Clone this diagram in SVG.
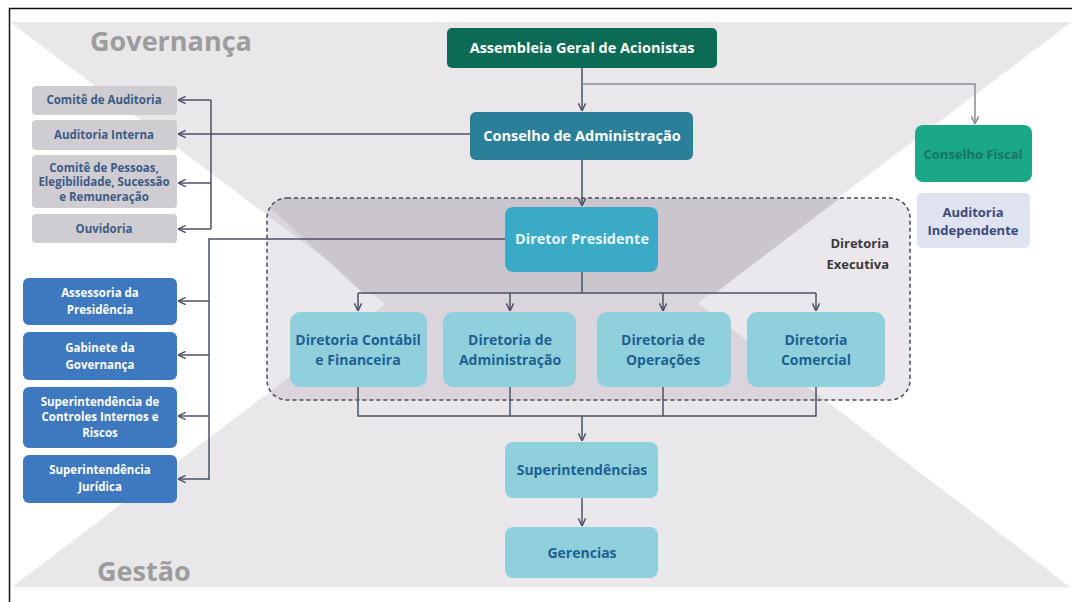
<svg xmlns="http://www.w3.org/2000/svg" width="1072" height="602" viewBox="0 0 1072 602">
<style>
text{font-family:"Open Sans","Noto Sans","DejaVu Sans",sans-serif;font-weight:700;text-anchor:middle}
.bg{fill:#e9e7e9}
.conn{fill:none;stroke:#4d5068;stroke-width:1.5}
.connl{fill:none;stroke:#8a8a98;stroke-width:1.5}
.grey rect{fill:#cfcdd1}
.grey text{fill:#3d5a86;font-size:11.5px}
.blue rect{fill:#3e78be}
.blue text{fill:#ffffff;font-size:11.5px}
.dir rect{fill:#90d0dd}
.dir text{fill:#1e5f92;font-size:14px}
.main{font-size:14.5px}
.hdr{fill:#9c9c9e;font-size:27px;font-weight:700;text-anchor:start}
</style>
<defs>
<marker id="ar" viewBox="0 0 10 10" refX="9.5" refY="5" markerWidth="9" markerHeight="9" markerUnits="userSpaceOnUse" orient="auto">
<path d="M1,1 L9.5,5 L1,9" fill="none" stroke="#4d5068" stroke-width="1.6"/>
</marker>
<marker id="arl" viewBox="0 0 10 10" refX="9.5" refY="5" markerWidth="9" markerHeight="9" markerUnits="userSpaceOnUse" orient="auto">
<path d="M1,1 L9.5,5 L1,9" fill="none" stroke="#8a8a98" stroke-width="1.6"/>
</marker>
<clipPath id="boxclip"><rect x="267" y="198" width="643" height="202" rx="20"/></clipPath>
</defs>
<rect x="0" y="0" width="1072" height="602" fill="#ffffff"/>
<g id="background">
<polygon class="bg" points="10,22 1072,22 541,421"/>
<polygon class="bg" points="12,587 1070,587 543,185"/>
<path d="M9.5,602 V8.5 H1072" fill="none" stroke="#111" stroke-width="1.5"/>
<text class="hdr" x="90" y="51">Governança</text>
<text class="hdr" x="97" y="581">Gestão</text>
</g>
<g id="diretoria-executiva">
<rect x="267" y="198" width="643" height="202" rx="20" fill="#b4a8bd" fill-opacity="0.28"/>
<g clip-path="url(#boxclip)">
<polygon points="260,198 840,198 714,294 364,294" fill="#cbc5ce"/>
</g>
<rect x="267" y="198" width="643" height="202" rx="20" fill="none" stroke="#4a4a58" stroke-width="1.5" stroke-dasharray="4,3"/>
<text x="889" y="248" style="text-anchor:end;fill:#3a3a3e;font-size:13px">Diretoria</text>
<text x="889" y="269" style="text-anchor:end;fill:#3a3a3e;font-size:13px">Executiva</text>
</g>
<g id="connectors">
<path class="conn" d="M582,68 V111" marker-end="url(#ar)"/>
<path class="connl" d="M582,84 H975 V124" marker-end="url(#arl)"/>
<path class="conn" d="M582,160 V206" marker-end="url(#ar)"/>
<path class="conn" d="M470,134 H178" marker-end="url(#ar)"/>
<path class="conn" d="M211,100 V229"/>
<path class="conn" d="M211,100 H178" marker-end="url(#ar)"/>
<path class="conn" d="M211,183 H178" marker-end="url(#ar)"/>
<path class="conn" d="M211,229 H178" marker-end="url(#ar)"/>
<path class="conn" d="M505,239 H209 V480"/>
<path class="conn" d="M209,301 H178" marker-end="url(#ar)"/>
<path class="conn" d="M209,355 H178" marker-end="url(#ar)"/>
<path class="conn" d="M209,416 H178" marker-end="url(#ar)"/>
<path class="conn" d="M209,479 H178" marker-end="url(#ar)"/>
<path class="conn" d="M582,272 V293"/>
<path class="conn" d="M358,293 H816"/>
<path class="conn" d="M358,293 V311" marker-end="url(#ar)"/>
<path class="conn" d="M510,293 V311" marker-end="url(#ar)"/>
<path class="conn" d="M663,293 V311" marker-end="url(#ar)"/>
<path class="conn" d="M816,293 V311" marker-end="url(#ar)"/>
<path class="conn" d="M358,387 V416 H816 V387"/>
<path class="conn" d="M510,387 V416"/>
<path class="conn" d="M663,387 V416"/>
<path class="conn" d="M582,416 V441" marker-end="url(#ar)"/>
<path class="conn" d="M582,498 V526" marker-end="url(#ar)"/>
</g>
<g id="assembleia">
<rect x="447" y="28" width="270" height="40" rx="5" fill="#0c6b55"/>
<text class="main" x="582" y="53" fill="#ffffff">Assembleia Geral de Acionistas</text>
</g>
<g id="conselho-administracao">
<rect x="470" y="112" width="223" height="48" rx="6" fill="#2b7f98"/>
<text class="main" x="582" y="141" fill="#ffffff">Conselho de Administração</text>
</g>
<g id="diretor-presidente">
<rect x="505" y="207" width="153" height="65" rx="8" fill="#3aaac6"/>
<text class="main" x="582" y="244" fill="#e6f6fa">Diretor Presidente</text>
</g>
<g id="conselho-fiscal">
<rect x="915" y="125" width="117" height="57" rx="8" fill="#1aa887"/>
<text x="973" y="159" fill="#167563" font-size="13">Conselho Fiscal</text>
</g>
<g id="auditoria-independente">
<rect x="917" y="193" width="113" height="55" rx="5" fill="#dfe2ef"/>
<text x="973" y="217" fill="#3b4c7c" font-size="13">Auditoria</text>
<text x="973" y="235" fill="#3b4c7c" font-size="13">Independente</text>
</g>
<g id="comite-auditoria" class="grey">
<rect x="32" y="86" width="145" height="29" rx="4"/>
<text x="104" y="104">Comitê de Auditoria</text>
</g>
<g id="auditoria-interna" class="grey">
<rect x="32" y="120" width="145" height="30" rx="4"/>
<text x="104" y="139">Auditoria Interna</text>
</g>
<g id="comite-pessoas" class="grey">
<rect x="32" y="155" width="145" height="53" rx="4"/>
<text x="104" y="172">Comitê de Pessoas,</text>
<text x="104" y="186">Elegibilidade, Sucessão</text>
<text x="104" y="201">e Remuneração</text>
</g>
<g id="ouvidoria" class="grey">
<rect x="32" y="214" width="145" height="29" rx="4"/>
<text x="104" y="233">Ouvidoria</text>
</g>
<g id="assessoria" class="blue">
<rect x="23" y="278" width="154" height="47" rx="6"/>
<text x="100" y="297">Assessoria da</text>
<text x="100" y="314">Presidência</text>
</g>
<g id="gabinete" class="blue">
<rect x="23" y="332" width="154" height="48" rx="6"/>
<text x="100" y="352">Gabinete da</text>
<text x="100" y="369">Governança</text>
</g>
<g id="sup-controles" class="blue">
<rect x="23" y="387" width="154" height="61" rx="6"/>
<text x="100" y="406">Superintendência de</text>
<text x="100" y="421">Controles Internos e</text>
<text x="100" y="437">Riscos</text>
</g>
<g id="sup-juridica" class="blue">
<rect x="23" y="455" width="154" height="48" rx="6"/>
<text x="100" y="474">Superintendência</text>
<text x="100" y="491">Jurídica</text>
</g>
<g id="dir-contabil" class="dir">
<rect x="290" y="312" width="137" height="75" rx="10"/>
<text x="358" y="345">Diretoria Contábil</text>
<text x="358" y="365">e Financeira</text>
</g>
<g id="dir-administracao" class="dir">
<rect x="443" y="312" width="133" height="75" rx="10"/>
<text x="510" y="345">Diretoria de</text>
<text x="510" y="365">Administração</text>
</g>
<g id="dir-operacoes" class="dir">
<rect x="597" y="312" width="134" height="75" rx="10"/>
<text x="663" y="345">Diretoria de</text>
<text x="663" y="365">Operações</text>
</g>
<g id="dir-comercial" class="dir">
<rect x="747" y="312" width="138" height="75" rx="10"/>
<text x="816" y="345">Diretoria</text>
<text x="816" y="365">Comercial</text>
</g>
<g id="superintendencias" class="dir">
<rect x="505" y="442" width="153" height="56" rx="8"/>
<text class="main" x="582" y="475">Superintendências</text>
</g>
<g id="gerencias" class="dir">
<rect x="505" y="527" width="153" height="51" rx="8"/>
<text class="main" x="582" y="558">Gerencias</text>
</g>
</svg>
